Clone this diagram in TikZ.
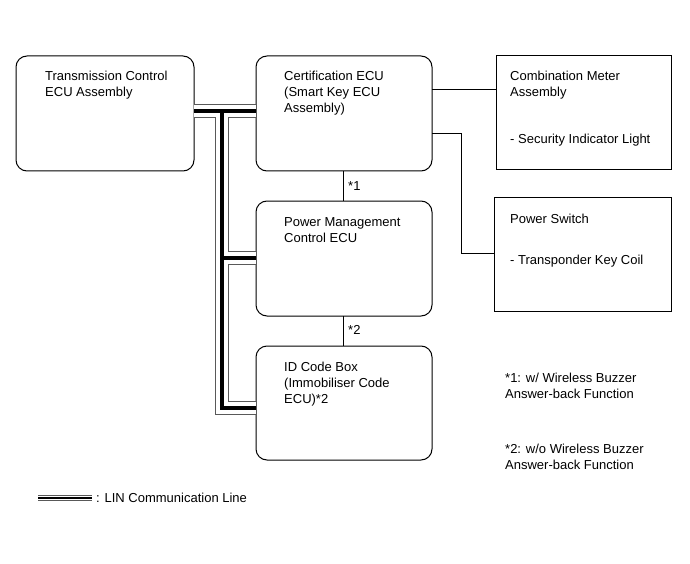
\documentclass[tikz,border=0pt]{standalone}
\usepackage{fontspec}
\setmainfont{Liberation Sans}
\begin{document}
\begin{tikzpicture}[x=1pt,y=-1pt,
  box/.style={draw,line width=1pt,rounded corners=11pt},
  sqbox/.style={draw,line width=1pt},
  txt/.style={anchor=base west,inner sep=0pt,font=\fontsize{13}{16}\selectfont},
  wire/.style={line width=1pt},
  busout/.style={line width=14pt,draw=black!65},
  busmid/.style={line width=12pt,draw=white},
  busin/.style={line width=3.5pt,draw=black},
]
\useasboundingbox (0,0) rectangle (690,564);
% boxes
\draw[box] (16,56) rectangle (194,171);
\draw[box] (256,56) rectangle (432,171);
\draw[box] (256,201) rectangle (432,316);
\draw[box] (256,346) rectangle (432,460);
\draw[sqbox] (496,56) rectangle (671,170);
\draw[sqbox] (494,197) rectangle (671,311);
\coordinate (tcmE) at (194,111);
\coordinate (certW) at (256,111);
\coordinate (busT) at (222,111);
\coordinate (busM) at (222,258);
\coordinate (busB) at (222,408);
\coordinate (pmW) at (256,258);
\coordinate (idW) at (256,408);
% bus
\draw[busout] (tcmE) -- (certW);
\draw[busout,line join=miter] (busT) -- (busB) -- (idW);
\draw[busout] (busM) -- (pmW);
\draw[busmid] (tcmE) -- (certW);
\draw[busmid,line join=miter] (busT) -- (busB) -- (idW);
\draw[busmid] (busM) -- (pmW);
\draw[busin] (tcmE) -- (certW);
\draw[busin,line join=miter] (busT) -- (busB) -- (idW);
\draw[busin] (busM) -- (pmW);
% texts
\node[txt] (t1) at (45,81) {Transmission Control};
\node[txt] (t2) at (45,97) {ECU Assembly};
\node[txt] (c1) at (284,81) {Certification ECU};
\node[txt] (c2) at (284,97) {(Smart Key ECU};
\node[txt] (c3) at (284,113) {Assembly)};
\node[txt] (p1) at (284,226) {Power Management};
\node[txt] (p2) at (284,242) {Control ECU};
\node[txt] (i1) at (284,371) {ID Code Box};
\node[txt] (i2) at (284,387) {(Immobiliser Code};
\node[txt] (i3) at (284,403) {ECU)*2};
\node[txt] (m1) at (510,81) {Combination Meter};
\node[txt] (m2) at (510,97) {Assembly};
\node[txt] (m3) at (510,144) {- Security Indicator Light};
\node[txt] (s1) at (510,223) {Power Switch};
\node[txt] (s2) at (510,264) {- Transponder Key Coil};
\node[txt] (n1) at (348,190) {*1};
\node[txt] (n2) at (348,334) {*2};
\node[txt] (f1) at (505,382) {*1: w/ Wireless Buzzer};
\node[txt] (f2) at (505,398) {Answer-back Function};
\node[txt] (f3) at (505,453) {*2: w/o Wireless Buzzer};
\node[txt] (f4) at (505,469) {Answer-back Function};
\node[txt] (lg) at (96,502) {: LIN Communication Line};
% connectors
\draw[wire] (432,90) -- (496,90);
\draw[wire] (432,134) -- (461,134) -- (461,253) -- (494,253);
\draw[wire] (343,171) -- (343,201);
\draw[wire] (343,316) -- (343,346);
% legend
\coordinate (lgA) at (38,498);
\coordinate (lgB) at (92,498);
\draw[line width=6pt,draw=black!65] (lgA) -- (lgB);
\draw[line width=4pt,draw=white] (lgA) -- (lgB);
\draw[line width=2.5pt] (lgA) -- (lgB);
\end{tikzpicture}
\end{document}
